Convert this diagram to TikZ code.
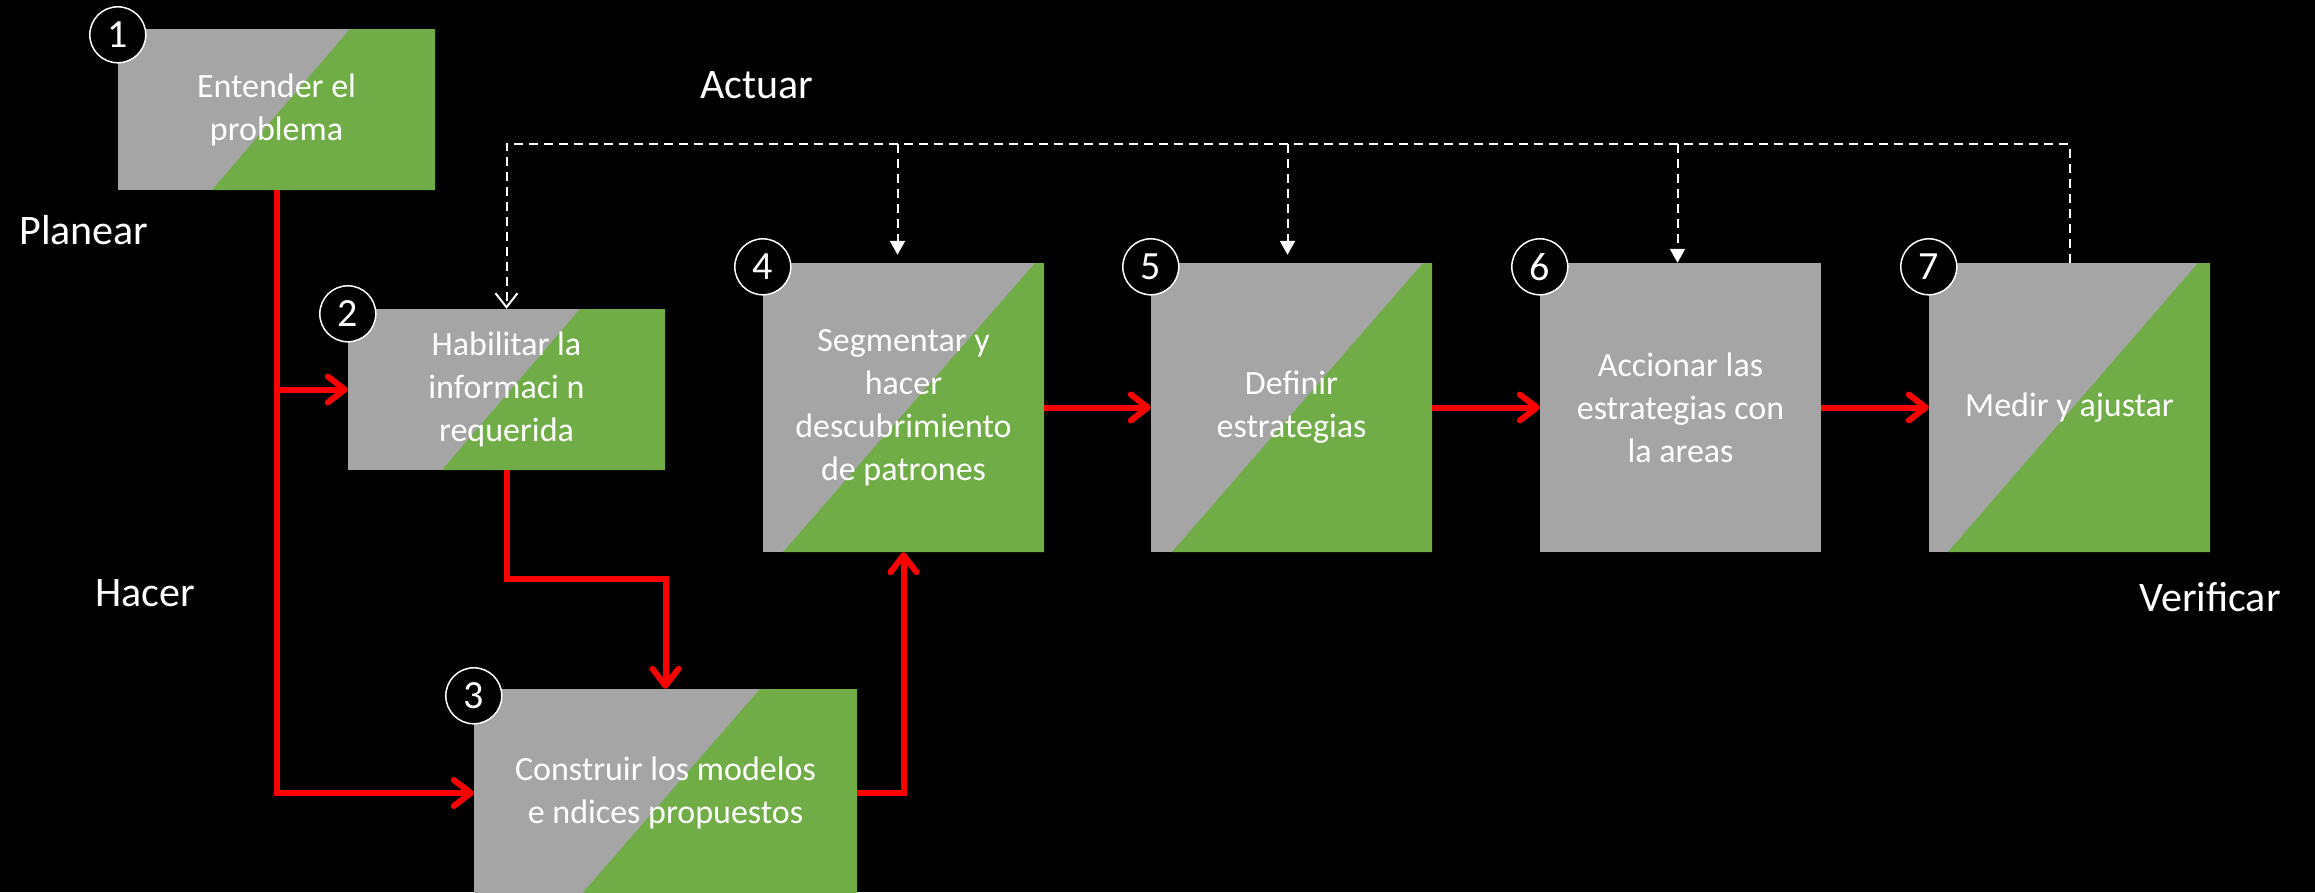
\documentclass[tikz,border=0pt]{standalone}
\usepackage{fontspec}
\setmainfont{Carlito}
\usetikzlibrary{arrows.meta}
\definecolor{boxgray}{HTML}{A5A5A5}
\definecolor{boxgreen}{HTML}{70AD47}
\tikzset{
  stepbox/.style={rectangle, fill=boxgray, inner sep=0pt, text=white, align=center,
    font=\fontsize{34}{43}\selectfont},
  splitbox/.style 2 args={path picture={
    \fill[boxgreen] ([xshift=#1pt]path picture bounding box.north west)
      -- (path picture bounding box.north east)
      -- (path picture bounding box.south east)
      -- ([xshift=#2pt]path picture bounding box.south west) -- cycle;}},
  numcircle/.style={circle, draw=white, line width=1.5pt, fill=black, minimum size=56pt,
    inner sep=0pt, text=white, font=\fontsize{40}{40}\selectfont},
  redarrow/.style={draw=red, line width=6pt,
    -{Straight Barb[length=17pt, width=26pt, line cap=round, line join=round]}},
  redline/.style={draw=red, line width=6pt},
  loopline/.style={draw=white, line width=2pt, dash pattern=on 9pt off 6pt},
  looparrow/.style={loopline, -{Triangle[length=14pt, width=15pt]}},
  looparrowopen/.style={loopline, -{Straight Barb[length=14pt, width=22pt]}},
  phase/.style={text=white, font=\fontsize{42}{42}\selectfont}
}
\begin{document}
\begin{tikzpicture}[x=1pt, y=-1pt]
\fill[black] (0,0) rectangle (2315,892);
\useasboundingbox (0,0) rectangle (2315,892);
\begin{scope}
\clip (0,0) rectangle (2315,892);

% boxes
\node[stepbox, minimum width=317pt, minimum height=161pt, splitbox={232}{94}] (b1) at (276.5,109.5) {Entender el\\problema};
\node[stepbox, minimum width=317pt, minimum height=161pt, splitbox={232}{94}] (b2) at (506.5,389.5) {Habilitar la\\informaci n\\requerida};
\node[stepbox, minimum width=383pt, minimum height=208pt, splitbox={286}{105}] (b3) at (665.5,793) {Construir los modelos\\e ndices propuestos};
\node[stepbox, minimum width=281pt, minimum height=289pt, splitbox={272}{20}] (b4) at (903.5,407.5) {Segmentar y\\hacer\\descubrimiento\\de patrones};
\node[stepbox, minimum width=281pt, minimum height=289pt, splitbox={272}{21}] (b5) at (1291.5,407.5) {Definir\\estrategias};
\node[stepbox, minimum width=281pt, minimum height=289pt] (b6) at (1680.5,407.5) {Accionar las\\estrategias con\\la areas};
\node[stepbox, minimum width=281pt, minimum height=289pt, splitbox={269}{19}] (b7) at (2069.5,407.5) {Medir y ajustar};

% red connectors
\draw[redarrow] (b1.south) |- (b3.west);
\draw[redarrow] (b1.south |- b2.west) -- (b2.west);
\draw[redarrow] (b2.south) |- ([yshift=110pt]b3.north) -- (b3.north);
\draw[redarrow] (b3.east) -| (b4.south);
\draw[redarrow] (b4.east) -- (b5.west);
\draw[redarrow] (b5.east) -- (b6.west);
\draw[redarrow] (b6.east) -- (b7.west);

% dashed feedback loop
\coordinate (loop) at (0,144);
\draw[looparrowopen] (b7.north) |- (b2.north |- loop) -- (b2.north);
\draw[looparrow, shorten >=8pt] ([xshift=-6pt]b4.north |- loop) -- ([xshift=-6pt]b4.north);
\draw[looparrow, shorten >=8pt] ([xshift=-4pt]b5.north |- loop) -- ([xshift=-4pt]b5.north);
\draw[looparrow] ([xshift=-3pt]b6.north |- loop) -- ([xshift=-3pt]b6.north);

% number circles
\node[numcircle] (n1) at ([yshift=-6pt]b1.north west) {1};
\node[numcircle] (n2) at ([yshift=-5pt]b2.north west) {2};
\node[numcircle] (n3) at ([yshift=-7pt]b3.north west) {3};
\node[numcircle] (n4) at ([yshift=-4pt]b4.north west) {4};
\node[numcircle] (n5) at ([yshift=-4pt]b5.north west) {5};
\node[numcircle] (n6) at ([yshift=-4pt]b6.north west) {6};
\node[numcircle] (n7) at ([yshift=-4pt]b7.north west) {7};

% phase labels
\node[phase] (actuar) at (757,85) {Actuar};
\node[phase] (planear) at (84,230) {Planear};
\node[phase] (hacer) at (145,593) {Hacer};
\node[phase] (verificar) at (2210,597) {Verificar};
\end{scope}
\end{tikzpicture}
\end{document}
